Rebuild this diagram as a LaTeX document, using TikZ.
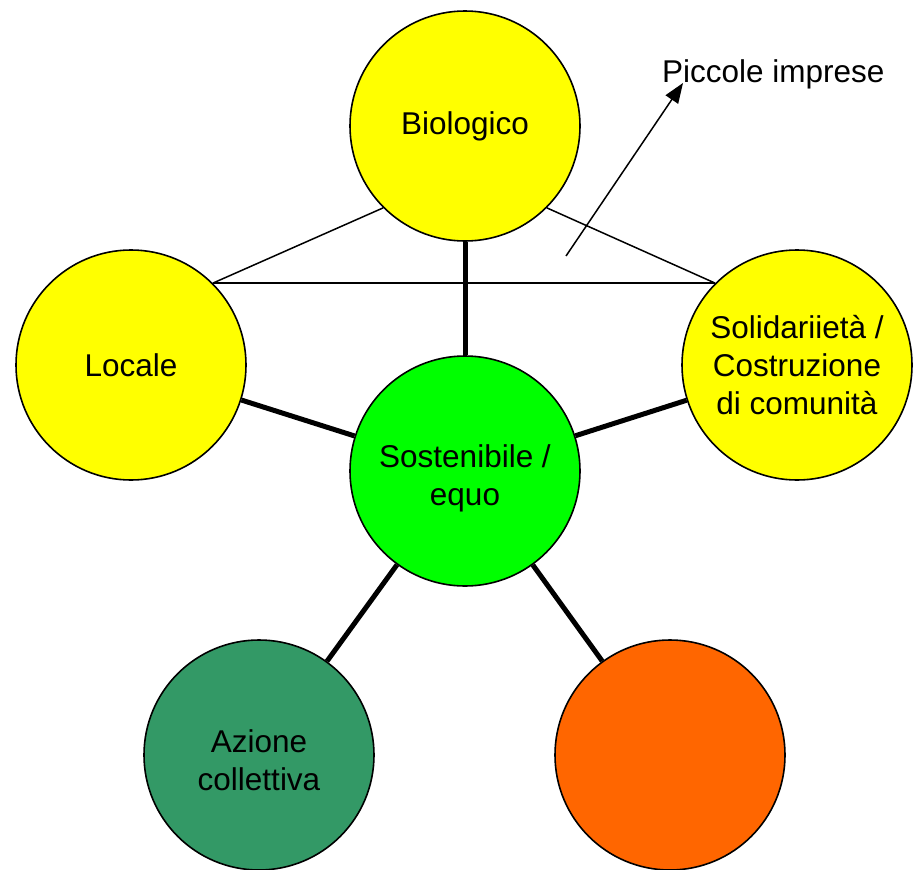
\documentclass[tikz,border=0pt]{standalone}
\usepackage{fontspec}
\setmainfont{Liberation Sans}
\usetikzlibrary{arrows.meta}
\definecolor{cyel}{HTML}{FFFF00}
\definecolor{cgreen}{HTML}{00FF00}
\definecolor{cdkgreen}{HTML}{339966}
\definecolor{corange}{HTML}{FF6600}
\tikzset{
  bubble/.style={circle, draw=black, line width=1.6pt, minimum size=230pt, inner sep=0pt,
    align=center, font=\fontsize{31.5}{38}\selectfont},
  bubbletext/.style={align=center, inner sep=0pt, font=\fontsize{31.5}{38}\selectfont},
  thickline/.style={line width=5pt},
  thinline/.style={line width=1.5pt},
}
\begin{document}
\begin{tikzpicture}[x=1pt,y=-1pt]
\useasboundingbox[fill=white] (0,0) rectangle (913,870);
\node[bubble, fill=cyel] (bio) at (465,126) {Biologico};
\node[bubble, fill=cyel] (loc) at (131,365) {Locale};
\node[bubble, fill=cyel] (sol) at (797,365) {Solidariietà /\\Costruzione\\di comunità};
\node[bubble, fill=cgreen] (sost) at (465,471) {};
\node[bubbletext] (sosttext) at (465,478) {Sostenibile /\\equo};
\node[bubble, fill=cdkgreen] (az) at (259,755) {};
\node[bubbletext] (aztext) at (259,760) {Azione\\collettiva};
\node[bubble, fill=corange] (or) at (670,755) {};
\draw[thickline] (sost) -- (bio);
\draw[thickline] (sost) -- (loc);
\draw[thickline] (sost) -- (sol);
\draw[thickline] (sost) -- (az);
\draw[thickline] (sost) -- (or);
\draw[thinline] (bio.225) -- (loc.45);
\draw[thinline] (bio.315) -- (sol.135);
\draw[thinline] (loc.45) -- (sol.135);
\coordinate (arrstart) at (566,256);
\coordinate (arrtip) at (683,83);
\draw[thinline, -{Triangle[length=20pt,width=15pt]}] (arrstart) -- (arrtip);
\node[anchor=base west, inner sep=0pt, font=\fontsize{31.5}{38}\selectfont] (pi) at (662,82) {Piccole imprese};
\end{tikzpicture}
\end{document}
